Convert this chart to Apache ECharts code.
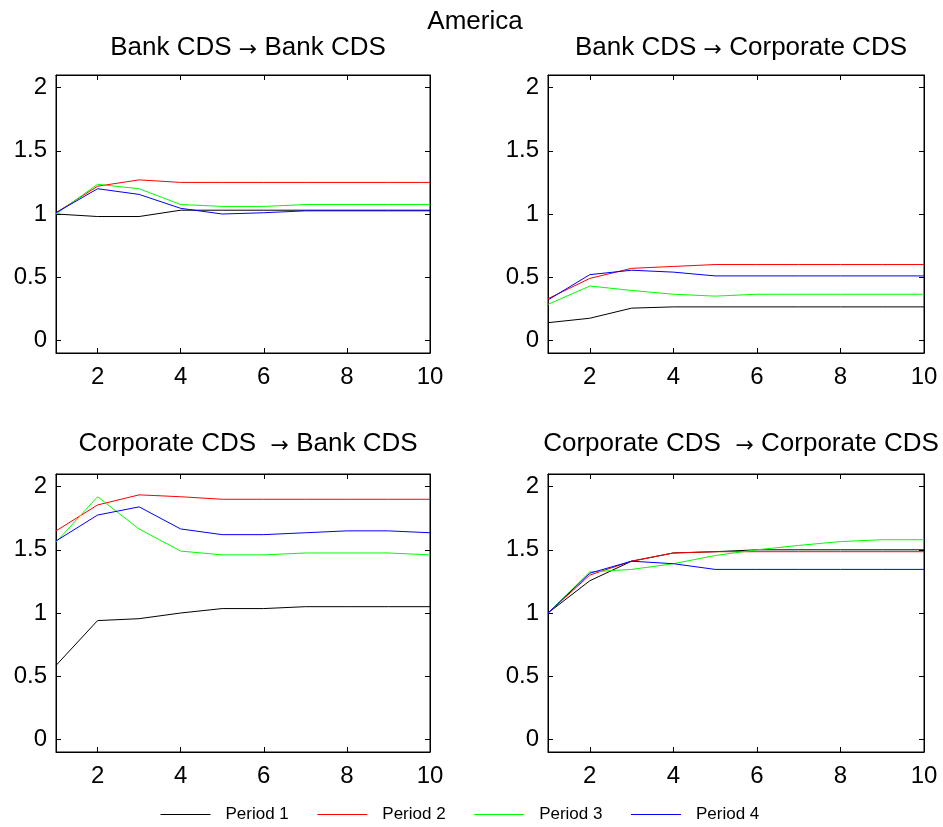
<!DOCTYPE html>
<html>
<head>
<meta charset="utf-8">
<title>America</title>
<script src="https://cdn.jsdelivr.net/npm/echarts@6/dist/echarts.min.js"></script>
<style>
  html, body { margin: 0; padding: 0; background: #fff; }
  #chart { width: 943px; height: 827px; }
</style>
</head>
<body>
<div id="chart"></div>
<script>
// Horizon (x axis) and tick values
const horizon = [1, 2, 3, 4, 5, 6, 7, 8, 9, 10];
const xTicks = [2, 4, 6, 8, 10];
const yTicks = [0, 0.5, 1, 1.5, 2];

const periods = ['Period 1', 'Period 2', 'Period 3', 'Period 4'];
const periodColors = ['#000000', '#ff0000', '#00ff00', '#0000ff'];

// Panel titles: [shock source, spacing before arrow, response]
const panelTitles = [
  ['Bank CDS', ' ', 'Bank CDS'],
  ['Bank CDS', ' ', 'Corporate CDS'],
  ['Corporate CDS', '  ', 'Bank CDS'],
  ['Corporate CDS', '  ', 'Corporate CDS']
];

// Bank CDS -> Bank CDS, one row per period
const bankToBank = [
  [1.00, 0.98, 0.98, 1.03, 1.03, 1.03, 1.03, 1.03, 1.03, 1.03],
  [1.01, 1.22, 1.27, 1.25, 1.25, 1.25, 1.25, 1.25, 1.25, 1.25],
  [1.00, 1.235, 1.20, 1.075, 1.06, 1.06, 1.075, 1.075, 1.075, 1.075],
  [1.01, 1.20, 1.155, 1.045, 1.00, 1.01, 1.025, 1.025, 1.025, 1.025]
];

// Bank CDS -> Corporate CDS
const bankToCorp = [
  [0.14, 0.175, 0.255, 0.265, 0.265, 0.265, 0.265, 0.265, 0.265, 0.265],
  [0.33, 0.49, 0.57, 0.585, 0.60, 0.60, 0.60, 0.60, 0.60, 0.60],
  [0.285, 0.43, 0.395, 0.365, 0.35, 0.365, 0.365, 0.365, 0.365, 0.365],
  [0.32, 0.52, 0.555, 0.54, 0.51, 0.51, 0.51, 0.51, 0.51, 0.51]
];

// Corporate CDS -> Bank CDS
const corpToBank = [
  [0.585, 0.94, 0.955, 1.00, 1.035, 1.035, 1.05, 1.05, 1.05, 1.05],
  [1.65, 1.855, 1.935, 1.92, 1.90, 1.90, 1.90, 1.90, 1.90, 1.90],
  [1.56, 1.92, 1.665, 1.49, 1.46, 1.46, 1.475, 1.475, 1.475, 1.46],
  [1.57, 1.775, 1.84, 1.665, 1.62, 1.62, 1.635, 1.65, 1.65, 1.635]
];

// Corporate CDS -> Corporate CDS
const corpToCorp = [
  [1.00, 1.255, 1.41, 1.475, 1.485, 1.50, 1.50, 1.50, 1.50, 1.50],
  [1.00, 1.30, 1.41, 1.475, 1.485, 1.485, 1.485, 1.485, 1.485, 1.485],
  [1.00, 1.325, 1.345, 1.39, 1.455, 1.50, 1.535, 1.565, 1.58, 1.58],
  [1.00, 1.315, 1.41, 1.39, 1.345, 1.345, 1.345, 1.345, 1.345, 1.345]
];

const panels = [bankToBank, bankToCorp, corpToBank, corpToCorp];

const FONT = "'Liberation Sans', Arial, Helvetica, sans-serif";

// Plot boxes of the 2x2 figure
const boxes = [
  { left: 56, top: 75, width: 374, height: 278, titleTop: 26 },
  { left: 548, top: 75, width: 376, height: 278, titleTop: 26 },
  { left: 56, top: 474, width: 374, height: 278, titleTop: 422 },
  { left: 548, top: 474, width: 376, height: 278, titleTop: 422 }
];

const grid = [], xAxis = [], yAxis = [], series = [], title = [];

title.push({
  text: 'America', left: 470, top: 4, textAlign: 'center',
  textStyle: { fontFamily: FONT, fontSize: 26, fontWeight: 'normal', color: '#000' }
});

const titleRich = {
  t: { fontFamily: FONT, fontSize: 26, color: '#000', verticalAlign: 'bottom', lineHeight: 30 },
  arr: { fontFamily: 'DejaVu Sans', fontSize: 22, color: '#000', verticalAlign: 'bottom', lineHeight: 26 }
};

boxes.forEach((b, i) => {
  grid.push({
    left: b.left, top: b.top, width: b.width, height: b.height,
    show: true, borderColor: '#000', borderWidth: 1, backgroundColor: '#fff'
  });
  const pt = panelTitles[i];
  title.push({
    text: '{t|' + pt[0] + pt[1] + '}{arr|\u2192}{t| ' + pt[2] + '}',
    left: b.left + b.width / 2, top: b.titleTop, textAlign: 'center',
    textStyle: { rich: titleRich, fontFamily: FONT, fontSize: 26, fontWeight: 'normal', color: '#000' }
  });
  const tickStyle = { show: true, inside: true, length: 5, lineStyle: { color: '#000', width: 1 } };
  // bottom and top x axes
  xAxis.push({
    type: 'value', gridIndex: i, min: 1, max: 10, position: 'bottom',
    axisLine: { show: true, onZero: false, lineStyle: { color: '#000', width: 1 } },
    axisTick: Object.assign({ customValues: xTicks }, tickStyle),
    axisLabel: { customValues: xTicks, color: '#000', fontSize: 24, fontFamily: FONT, margin: 12 },
    splitLine: { show: false }
  });
  xAxis.push({
    type: 'value', gridIndex: i, min: 1, max: 10, position: 'top',
    axisLine: { show: true, onZero: false, lineStyle: { color: '#000', width: 1 } },
    axisTick: Object.assign({ customValues: xTicks }, tickStyle),
    axisLabel: { show: false },
    splitLine: { show: false }
  });
  // left and right y axes
  yAxis.push({
    type: 'value', gridIndex: i, min: -0.1, max: 2.1, position: 'left',
    axisLine: { show: true, onZero: false, lineStyle: { color: '#000', width: 1 } },
    axisTick: Object.assign({ customValues: yTicks }, tickStyle),
    axisLabel: { customValues: yTicks, color: '#000', fontSize: 24, fontFamily: FONT, margin: 9 },
    splitLine: { show: false }
  });
  yAxis.push({
    type: 'value', gridIndex: i, min: -0.1, max: 2.1, position: 'right',
    axisLine: { show: true, onZero: false, lineStyle: { color: '#000', width: 1 } },
    axisTick: Object.assign({ customValues: yTicks }, tickStyle),
    axisLabel: { show: false },
    splitLine: { show: false }
  });

  panels[i].forEach((vals, p) => {
    series.push({
      name: periods[p], type: 'line',
      xAxisIndex: 2 * i, yAxisIndex: 2 * i,
      data: horizon.map((h, k) => [h, vals[k]]),
      symbol: 'none', silent: true, animation: false,
      lineStyle: { color: periodColors[p], width: 1 },
      itemStyle: { color: periodColors[p] }
    });
  });
});

const chart = echarts.init(document.getElementById('chart'), null, { renderer: 'canvas' });
chart.setOption({
  backgroundColor: '#fff',
  animation: false,
  title: title,
  legend: {
    data: periods,
    top: 801, left: 155,
    itemWidth: 50, itemHeight: 14, itemGap: 28,
    // plain line keys: the marker dot is made fully transparent
    itemStyle: { opacity: 0 },
    lineStyle: { width: 1 },
    textStyle: { fontFamily: FONT, fontSize: 17, color: '#000', padding: [0, 0, 0, 10] }
  },
  grid: grid,
  xAxis: xAxis,
  yAxis: yAxis,
  series: series
});
</script>
</body>
</html>
